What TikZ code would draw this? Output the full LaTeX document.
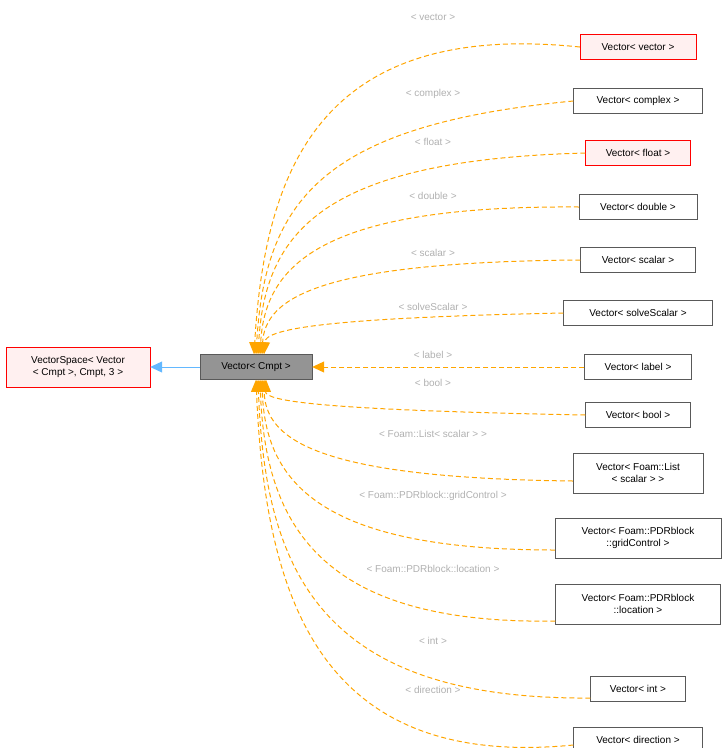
\documentclass[tikz,border=0pt]{standalone}
\usepackage{fontspec}
\setmainfont{Liberation Sans}
\usetikzlibrary{arrows.meta,positioning,calc}
\definecolor{edgeorange}{HTML}{FFA500}
\definecolor{lblgray}{HTML}{B0B0B0}
\definecolor{inhblue}{HTML}{63B8FF}
\tikzset{
  cls/.style={draw=black!65,fill=white,align=center,font=\fontsize{10}{12}\selectfont,inner xsep=3pt,minimum height=25pt},
  redcls/.style={cls,draw=red,fill=red!6},
  basecls/.style={cls,fill=black!42},
  tmpl/.style={-{Triangle[length=12pt,width=11pt,fill=edgeorange]},draw=edgeorange,dash pattern=on 5pt off 3pt,line width=1pt},
  inh/.style={-{Triangle[length=12pt,width=11pt,fill=inhblue]},draw=inhblue,line width=1pt},
  lbl/.style={text=lblgray,font=\fontsize{10}{12}\selectfont}
}
\begin{document}
\begin{tikzpicture}[x=1pt,y=-1pt]
  \useasboundingbox (0,0) rectangle (728,748);
  \node (vspace) [redcls,minimum height=40pt,minimum width=144pt] at (78,367) {VectorSpace< Vector\\< Cmpt >, Cmpt, 3 >};
  \node (cmpt) [basecls,minimum width=112pt] at (256,367) {Vector< Cmpt >};

  \node (vvector) [redcls,minimum width=116pt] at (638,47) {Vector< vector >};
  \node (vcomplex) [cls,minimum width=129pt] at (638,101) {Vector< complex >};
  \node (vfloat) [redcls,minimum width=105pt] at (638,153) {Vector< float >};
  \node (vdouble) [cls,minimum width=118pt] at (638,207) {Vector< double >};
  \node (vscalar) [cls,minimum width=115pt] at (638,260) {Vector< scalar >};
  \node (vsolve) [cls,minimum width=149pt] at (638,313) {Vector< solveScalar >};
  \node (vlabel) [cls,minimum width=107pt] at (638,367) {Vector< label >};
  \node (vbool) [cls,minimum width=105pt] at (638,415) {Vector< bool >};
  \node (vlist) [cls,minimum height=40pt,minimum width=130pt] at (638,473) {Vector< Foam::List\\< scalar > >};
  \node (vgrid) [cls,minimum height=40pt,minimum width=166pt] at (638,538) {Vector< Foam::PDRblock\\::gridControl >};
  \node (vloc) [cls,minimum height=40pt,minimum width=165pt] at (638,604) {Vector< Foam::PDRblock\\::location >};
  \node (vint) [cls,minimum width=95pt] at (638,689) {Vector< int >};
  \node (vdir) [cls,minimum width=129pt] at (638,740) {Vector< direction >};

  % template labels
  \node[lbl] at (433,17) {< vector >};
  \node[lbl] at (433,94) {< complex >};
  \node[lbl] at (433,142) {< float >};
  \node[lbl] at (433,196) {< double >};
  \node[lbl] at (433,253) {< scalar >};
  \node[lbl] at (433,307) {< solveScalar >};
  \node[lbl] at (433,355) {< label >};
  \node[lbl] at (433,383) {< bool >};
  \node[lbl] at (433,434) {< Foam::List< scalar > >};
  \node[lbl] at (433,496) {< Foam::PDRblock::gridControl >};
  \node[lbl] at (433,569) {< Foam::PDRblock::location >};
  \node[lbl] at (433,641) {< int >};
  \node[lbl] at (433,690) {< direction >};

  \draw[inh] (cmpt) -- (vspace);
  \foreach \nm/\yc/\yp/\dx in {vvector/47/20/-2,vcomplex/101/125/0,vfloat/153/160/2,vdouble/207/205/4,vscalar/260/262/6,vsolve/313/318/8}
    \draw[tmpl] (\nm.west) .. controls (320,\yp) and (265,{\yc+0.4*(354-\yc)}) .. ($(cmpt.north)+(\dx,0)$);
  \draw[tmpl] (vlabel) -- (cmpt);
  \foreach \nm/\yc/\yp/\dx in {vbool/415/410/10,vlist/481/478/8,vgrid/550/550/6,vloc/621/625/4,vint/698/700/2,vdir/745/770/0}
    \draw[tmpl] (\nm.south west|-0,\yc) .. controls (320,\yp) and (265,{\yc-0.4*(\yc-380)}) .. ($(cmpt.south)+(\dx,0)$);
\end{tikzpicture}
\end{document}
